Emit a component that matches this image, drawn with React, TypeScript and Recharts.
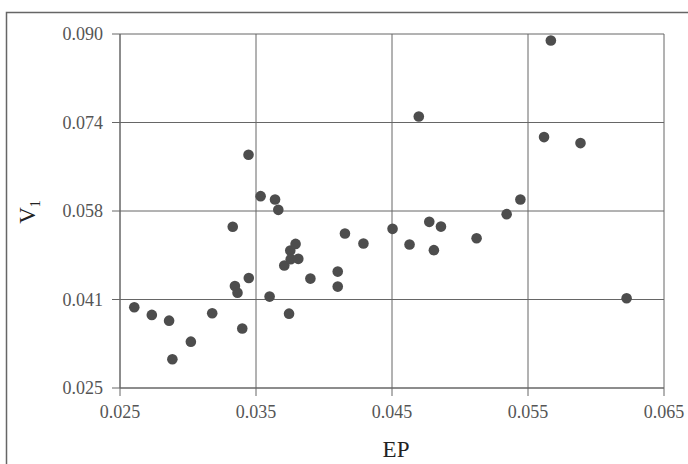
import React from "react";
import { ScatterChart, Scatter, XAxis, YAxis, CartesianGrid, Label } from "recharts";

const epValues = [
  0.02605, 0.02734, 0.02861, 0.02885, 0.03021, 0.03178, 0.03329, 0.03345, 0.03364, 0.03399,
  0.03447, 0.03445, 0.03534, 0.0364, 0.03664, 0.036, 0.03708, 0.03743, 0.03752, 0.03755,
  0.03791, 0.03811, 0.039, 0.04101, 0.04101, 0.04154, 0.0429, 0.04504, 0.04629, 0.04697,
  0.04774, 0.04808, 0.0486, 0.05122, 0.05343, 0.05444, 0.05618, 0.05668, 0.05886, 0.06225,
];
const v1Values = [
  0.03983, 0.03842, 0.03737, 0.03027, 0.03351, 0.03873, 0.05462, 0.04374, 0.04251, 0.03593,
  0.04521, 0.06782, 0.06023, 0.0596, 0.05771, 0.04178, 0.04748, 0.03865, 0.05023, 0.04865,
  0.05146, 0.04871, 0.04509, 0.04637, 0.04362, 0.05336, 0.05152, 0.05422, 0.05134, 0.07486,
  0.05551, 0.05031, 0.05464, 0.05251, 0.05692, 0.0596, 0.07107, 0.08882, 0.06997, 0.04148,
];
const xTicks = [0.025, 0.035, 0.045, 0.055, 0.065];
const xTickLabels = ["0.025", "0.035", "0.045", "0.055", "0.065"];
const yTicks = [0.025, 0.04125, 0.0575, 0.07375, 0.09];
const yTickLabels = ["0.025", "0.041", "0.058", "0.074", "0.090"];

const data = epValues.map((x, i) => ({ x, y: v1Values[i] }));

const FONT = "'Liberation Serif', 'Times New Roman', serif";

const Dot = (props: any) => {
  const { cx, cy } = props;
  return <circle cx={cx} cy={cy} r={5.3} fill="#4d4d4d" />;
};

export default function App() {
  return (
    <div style={{ position: "relative", width: 688, height: 464, background: "#fff", overflow: "hidden" }}>
      <style>{`html,body{margin:0;padding:0;}`}</style>
      <div style={{ position: "absolute", left: 0, top: 0 }}>
        <ScatterChart width={688} height={464} margin={{ top: 34, right: 24, bottom: 0, left: 0 }}>
          <CartesianGrid stroke="#666" strokeWidth={1} />
          <XAxis
            type="number"
            dataKey="x"
            domain={[0.025, 0.065]}
            ticks={xTicks}
            tickFormatter={(v: number) => xTickLabels[xTicks.indexOf(v)] ?? String(v)}
            height={76}
            tickSize={8}
            tickMargin={9}
            stroke="#666"
            tick={{ fill: "#555", fontSize: 18, fontFamily: FONT }}
            interval={0}
          >
            <Label
              value="EP"
              position="insideBottom"
              offset={7}
              dx={4}
              style={{ fill: "#222", fontSize: 23, fontFamily: FONT }}
            />
          </XAxis>
          <YAxis
            type="number"
            dataKey="y"
            domain={[0.025, 0.09]}
            ticks={yTicks}
            tickFormatter={(v: number) => yTickLabels[yTicks.indexOf(v)] ?? String(v)}
            width={120}
            tickSize={8}
            tickMargin={9}
            stroke="#666"
            tick={{ fill: "#555", fontSize: 18, fontFamily: FONT }}
            interval={0}
          />
          <Scatter data={data} shape={Dot} isAnimationActive={false} />
        </ScatterChart>
      </div>
      <svg width={688} height={464} style={{ position: "absolute", left: 0, top: 0, pointerEvents: "none" }}>
        <path d="M6.5,464 L6.5,12.5 L688,12.5" fill="none" stroke="#666" strokeWidth={1.5} />
        <text
          transform="translate(35, 212) rotate(-90)"
          textAnchor="middle"
          fontFamily={FONT}
          fontSize={23}
          fill="#222"
        >
          V<tspan fontSize={14} dy={5}>1</tspan>
        </text>
      </svg>
    </div>
  );
}
